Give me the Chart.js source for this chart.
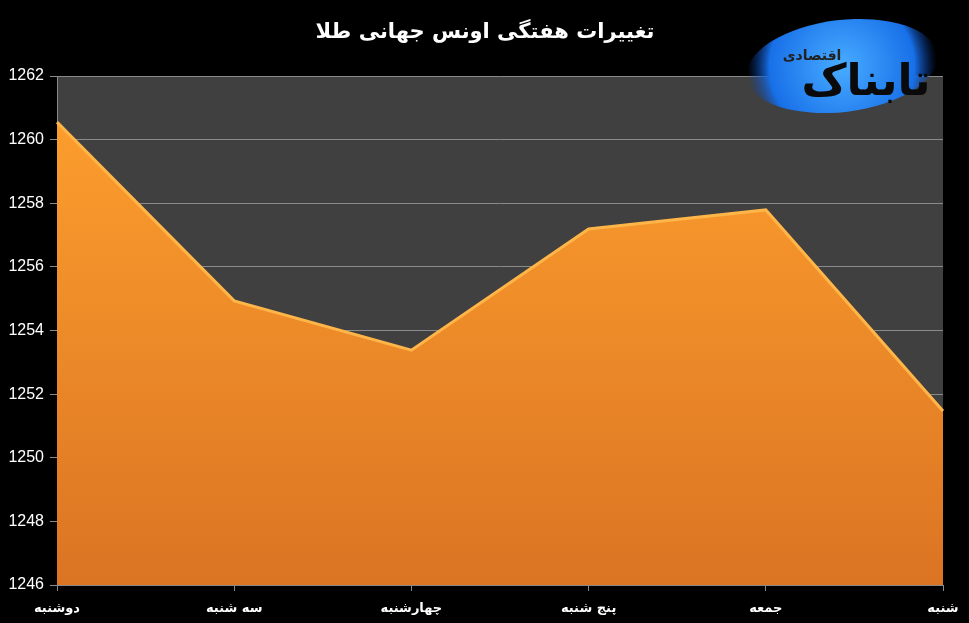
<!DOCTYPE html>
<html>
<head>
<meta charset="utf-8">
<script src="https://cdn.jsdelivr.net/npm/chart.js@4/dist/chart.umd.min.js"></script>
<style>
  html, body { margin: 0; padding: 0; background: #000; }
  #wrap { width: 969px; height: 623px; position: relative; }
</style>
</head>
<body>
<div id="wrap"><canvas id="grafico" width="969" height="623"></canvas></div>
<script>
// Datos
const dias = ["دوشنبه", "سه شنبه", "چهارشنبه", "پنج شنبه", "جمعه", "شنبه"];
const precios = [1260.55, 1254.93, 1253.38, 1257.19, 1257.79, 1251.47];
const yMin = 1246;
const yMax = 1262;
const yPaso = 2;
const titulo = "تغییرات هفتگی اونس جهانی طلا";

// Fondo gris del área del gráfico, título y logo
const decoracion = {
  id: "decoracion",
  beforeDraw(chart) {
    const { ctx, chartArea: a } = chart;
    ctx.save();
    ctx.fillStyle = "#404040";
    ctx.fillRect(a.left, a.top, a.right - a.left, a.bottom - a.top);
    ctx.restore();
  },
  afterDraw(chart) {
    const { ctx } = chart;
    ctx.save();
    ctx.fillStyle = "#fff";
    ctx.font = "bold 21px 'DejaVu Sans'";
    ctx.textAlign = "center";
    ctx.textBaseline = "middle";
    ctx.fillText(titulo, 485, 33);

    // logo
    ctx.save();
    ctx.translate(842, 66);
    ctx.rotate(-0.12);
    const g = ctx.createRadialGradient(0, 0, 5, 0, 0, 95);
    g.addColorStop(0, "#45a8ff");
    g.addColorStop(0.75, "#1870e8");
    g.addColorStop(1, "rgba(10,60,160,0)");
    ctx.fillStyle = g;
    ctx.beginPath();
    ctx.ellipse(0, 0, 96, 46, 0, 0, Math.PI * 2);
    ctx.fill();
    ctx.restore();
    ctx.fillStyle = "#0a0a0a";
    ctx.font = "bold 44px 'DejaVu Sans'";
    ctx.fillText("تابناک", 866, 84);
    ctx.fillStyle = "#222";
    ctx.font = "bold 14px 'DejaVu Sans'";
    ctx.fillText("اقتصادی", 812, 56);
    ctx.restore();
  }
};

const ctx = document.getElementById("grafico");

new Chart(ctx, {
  type: "line",
  data: {
    labels: dias,
    datasets: [{
      data: precios,
      fill: "start",
      borderColor: "#ffb548",
      borderWidth: 3,
      pointRadius: 0,
      tension: 0,
      backgroundColor(c) {
        const a = c.chart.chartArea;
        if (!a) return "#f08a25";
        const g = c.chart.ctx.createLinearGradient(0, a.top, 0, a.bottom);
        g.addColorStop(0, "#ffa12e");
        g.addColorStop(1, "#db7423");
        return g;
      }
    }]
  },
  options: {
    responsive: false,
    animation: false,
    devicePixelRatio: 1,
    layout: { padding: { top: 76, right: 26, left: 0, bottom: 0 } },
    plugins: { legend: { display: false }, tooltip: { enabled: false } },
    scales: {
      x: {
        offset: false,
        afterFit(s) { s.height = 38; },
        grid: { display: true, drawOnChartArea: false, color: "#888", tickLength: 6 },
        border: { color: "#888" },
        ticks: {
          color: "#fff",
          font: { family: "DejaVu Sans", size: 13, weight: "bold" },
          maxRotation: 0,
          padding: 10
        }
      },
      y: {
        min: yMin,
        max: yMax,
        afterFit(s) { s.width = 57; },
        grid: { color: "#8a8a8a", tickLength: 7 },
        border: { color: "#8a8a8a" },
        ticks: {
          stepSize: yPaso,
          color: "#fff",
          font: { family: "Liberation Sans", size: 16 },
          padding: 6,
          callback: (v) => String(v)
        }
      }
    }
  },
  plugins: [decoracion]
});
</script>
</body>
</html>
